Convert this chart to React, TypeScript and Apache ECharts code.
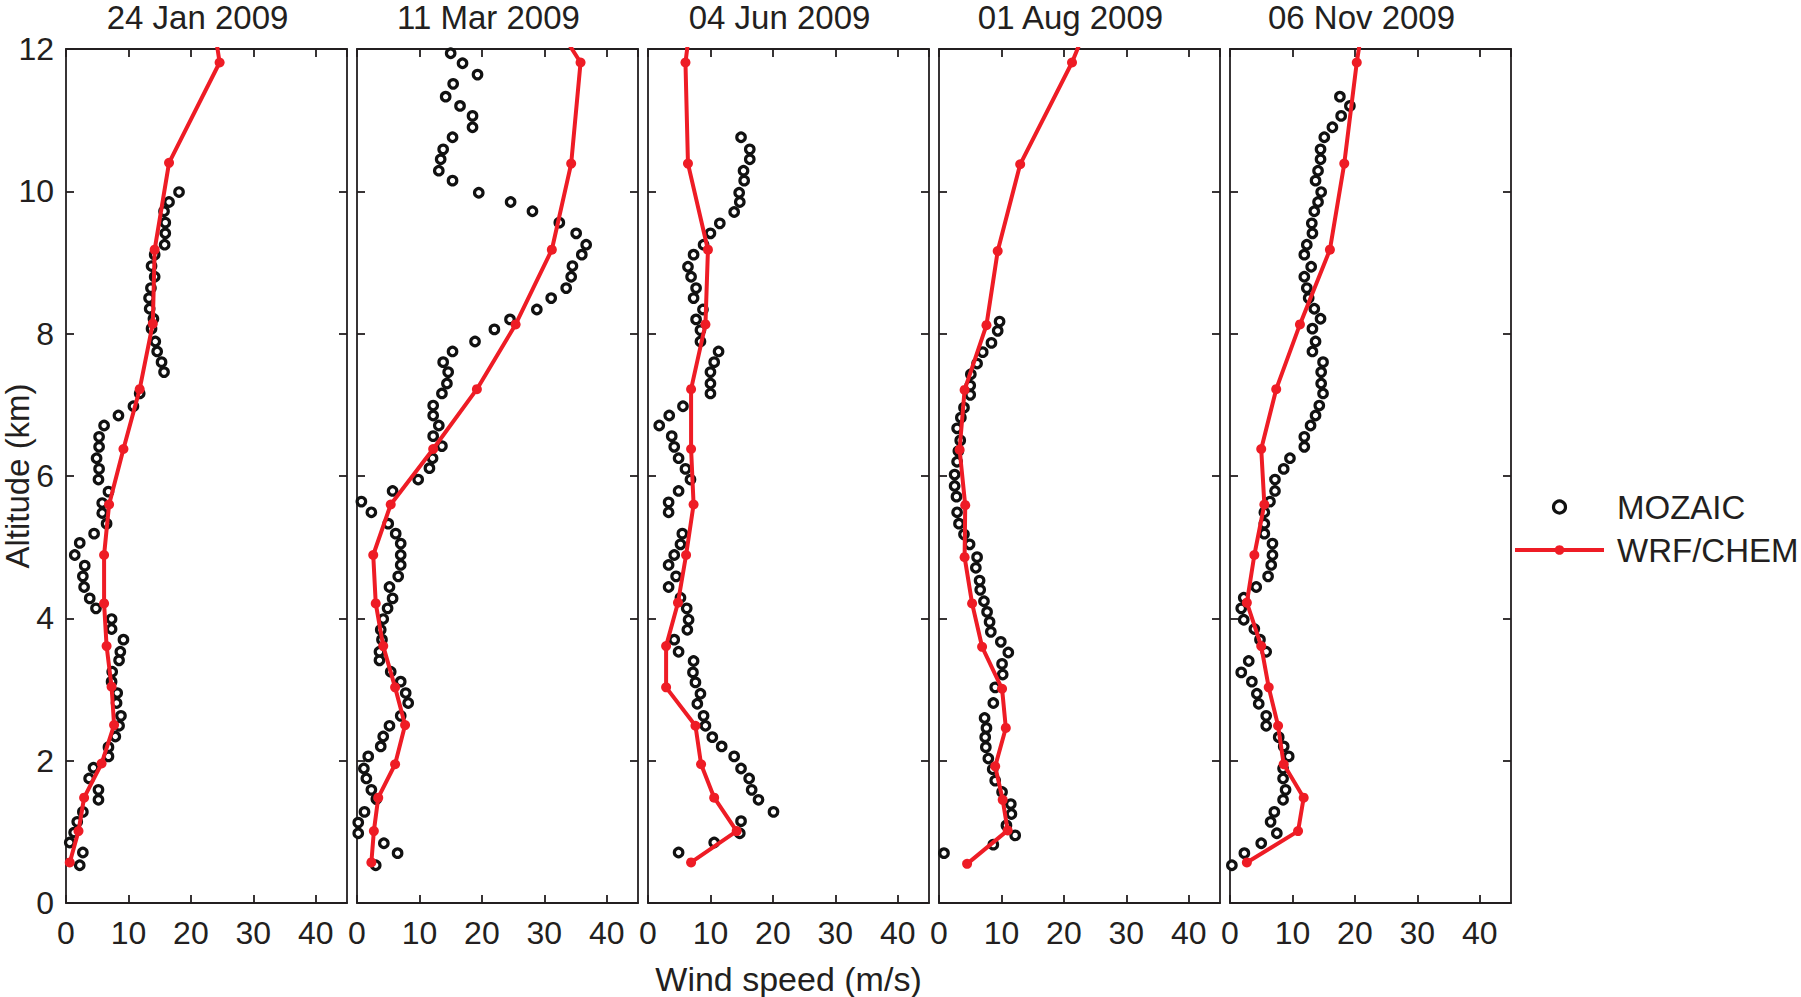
import React, { useEffect, useRef } from "react";
import * as echarts from "echarts";

// ---- Data: [wind speed (m/s), altitude (km)] ----
const panelTitles = ["24 Jan 2009", "11 Mar 2009", "04 Jun 2009", "01 Aug 2009", "06 Nov 2009"];

const mozaicJan24 = [
  [18.1, 9.99], [16.5, 9.85], [15.7, 9.72], [15.9, 9.56], [15.9, 9.41], [15.8, 9.25], [14.2, 9.11], [13.7, 8.95],
  [14.2, 8.8], [13.6, 8.64], [13.3, 8.5], [13.4, 8.35], [14.0, 8.21], [13.7, 8.07], [14.3, 7.89], [14.6, 7.75],
  [15.3, 7.6], [15.7, 7.46], [11.8, 7.16], [10.8, 6.98], [8.4, 6.85], [6.1, 6.71], [5.3, 6.55], [5.3, 6.41],
  [4.9, 6.25], [5.3, 6.1], [5.2, 5.95], [6.8, 5.78], [5.8, 5.62], [5.8, 5.48], [6.5, 5.33], [4.5, 5.19],
  [2.2, 5.06], [1.4, 4.89], [3.0, 4.74], [2.7, 4.59], [2.9, 4.44], [3.8, 4.28], [4.8, 4.14], [7.3, 3.99],
  [7.3, 3.85], [9.2, 3.7], [8.7, 3.53], [8.5, 3.41], [7.4, 3.25], [7.3, 3.11], [8.2, 2.95], [8.1, 2.81],
  [8.8, 2.63], [8.5, 2.49], [7.9, 2.34], [6.8, 2.19], [6.8, 2.06], [4.4, 1.9], [3.7, 1.75], [5.2, 1.59],
  [5.2, 1.45], [2.7, 1.28], [1.8, 1.14], [1.3, 0.99], [0.6, 0.85], [2.7, 0.71], [2.2, 0.53],
];
const wrfJan24 = [
  [22.0, 13.3], [24.6, 11.81], [16.5, 10.4], [14.2, 9.18], [13.9, 8.14], [11.8, 7.22], [9.2, 6.38], [6.9, 5.6],
  [6.1, 4.89], [6.1, 4.21], [6.5, 3.61], [7.3, 3.04], [7.7, 2.5], [5.7, 1.96], [2.9, 1.48], [2.0, 1.01], [0.6, 0.57],
];

const mozaicMar11 = [
  [15.0, 11.94], [16.9, 11.8], [19.3, 11.64], [15.4, 11.51], [14.2, 11.33], [16.5, 11.2], [18.5, 11.06], [18.5, 10.9],
  [15.3, 10.76], [13.8, 10.59], [13.4, 10.45], [13.1, 10.29], [15.3, 10.15], [19.5, 9.98], [24.6, 9.85], [28.1, 9.72],
  [32.4, 9.56], [35.1, 9.41], [36.7, 9.25], [36.0, 9.11], [34.5, 8.95], [34.3, 8.8], [33.5, 8.64], [31.1, 8.5],
  [28.8, 8.34], [24.5, 8.2], [22.0, 8.06], [18.9, 7.89], [15.3, 7.75], [13.8, 7.6], [14.6, 7.46], [14.4, 7.3],
  [13.6, 7.16], [12.2, 6.99], [12.2, 6.85], [13.1, 6.71], [12.2, 6.56], [13.6, 6.42], [12.1, 6.25], [11.6, 6.11],
  [9.8, 5.95], [5.7, 5.79], [0.7, 5.64], [2.3, 5.49], [5.0, 5.33], [6.2, 5.19], [7.0, 5.05], [7.0, 4.89],
  [7.0, 4.75], [6.6, 4.59], [5.2, 4.44], [5.7, 4.28], [4.9, 4.14], [4.2, 3.99], [3.8, 3.84], [4.0, 3.7],
  [3.6, 3.53], [3.6, 3.41], [5.4, 3.25], [7.0, 3.11], [7.8, 2.95], [8.2, 2.81], [7.0, 2.63], [5.2, 2.49],
  [4.2, 2.34], [3.8, 2.2], [1.8, 2.06], [1.1, 1.89], [1.5, 1.75], [2.3, 1.59], [3.1, 1.46], [1.2, 1.28],
  [0.2, 1.13], [0.2, 0.98], [4.3, 0.84], [6.5, 0.7], [3.0, 0.53],
];
const wrfMar11 = [
  [25.0, 13.3], [35.8, 11.81], [34.3, 10.39], [31.2, 9.18], [25.4, 8.13], [19.2, 7.22], [12.2, 6.38], [5.4, 5.6],
  [2.6, 4.89], [3.0, 4.21], [4.2, 3.61], [6.1, 3.03], [7.7, 2.5], [6.1, 1.95], [3.4, 1.48], [2.7, 1.01], [2.3, 0.57],
];

const mozaicJun04 = [
  [14.9, 10.76], [16.3, 10.59], [16.3, 10.45], [15.3, 10.29], [15.4, 10.15], [14.6, 9.98], [14.7, 9.85], [13.8, 9.71],
  [11.5, 9.55], [10.0, 9.41], [8.9, 9.25], [7.3, 9.11], [6.4, 8.94], [6.9, 8.8], [7.7, 8.64], [7.3, 8.5],
  [8.8, 8.34], [7.7, 8.2], [8.4, 8.05], [8.4, 7.89], [11.3, 7.75], [10.6, 7.6], [10.0, 7.46], [10.0, 7.3],
  [10.0, 7.16], [5.6, 6.98], [3.4, 6.85], [1.8, 6.71], [3.8, 6.56], [4.2, 6.41], [4.9, 6.25], [6.0, 6.1],
  [6.8, 5.95], [4.9, 5.79], [3.3, 5.63], [3.3, 5.49], [5.5, 5.19], [5.2, 5.04], [4.2, 4.89], [3.3, 4.75],
  [4.5, 4.59], [3.3, 4.44], [5.2, 4.29], [6.2, 4.14], [6.5, 3.98], [6.3, 3.84], [4.2, 3.7], [4.9, 3.53],
  [7.3, 3.4], [7.2, 3.24], [7.6, 3.1], [8.4, 2.94], [7.9, 2.8], [8.9, 2.63], [9.2, 2.49], [10.3, 2.33],
  [11.8, 2.2], [13.8, 2.06], [14.9, 1.89], [16.2, 1.75], [16.6, 1.59], [17.7, 1.45], [20.1, 1.28], [14.9, 1.15],
  [14.7, 0.98], [10.6, 0.85], [4.9, 0.71],
];
const wrfJun04 = [
  [8.1, 13.3], [6.0, 11.81], [6.4, 10.39], [9.6, 9.18], [9.2, 8.13], [6.9, 7.22], [6.9, 6.38], [7.3, 5.6],
  [6.1, 4.89], [4.8, 4.22], [2.9, 3.61], [2.9, 3.03], [7.6, 2.49], [8.5, 1.95], [10.6, 1.48], [14.2, 1.01], [6.9, 0.57],
];

const mozaicAug01 = [
  [9.7, 8.17], [9.4, 8.04], [8.4, 7.87], [7.0, 7.74], [6.1, 7.58], [5.1, 7.43], [5.0, 7.27], [5.0, 7.14],
  [4.0, 6.96], [3.5, 6.82], [2.9, 6.67], [3.4, 6.5], [3.1, 6.35], [2.9, 6.2], [2.5, 6.02], [2.5, 5.86],
  [2.8, 5.71], [2.9, 5.49], [3.2, 5.33], [4.0, 5.18], [4.9, 5.04], [6.1, 4.86], [5.9, 4.71], [6.5, 4.53],
  [6.6, 4.4], [7.2, 4.24], [7.7, 4.09], [8.1, 3.95], [8.3, 3.81], [9.9, 3.67], [11.1, 3.52], [10.1, 3.36],
  [10.2, 3.21], [9.0, 3.03], [8.7, 2.81], [7.3, 2.6], [7.6, 2.46], [7.4, 2.33], [7.5, 2.19], [7.9, 2.03],
  [8.6, 1.88], [9.0, 1.72], [10.1, 1.56], [11.5, 1.39], [11.6, 1.25], [10.8, 1.09], [12.2, 0.95], [8.7, 0.82],
  [0.8, 0.7],
];
const wrfAug01 = [
  [28.2, 13.3], [21.3, 11.81], [13.0, 10.38], [9.4, 9.16], [7.6, 8.12], [4.1, 7.21], [3.3, 6.37], [4.2, 5.59],
  [4.1, 4.86], [5.3, 4.21], [6.9, 3.6], [10.1, 3.01], [10.7, 2.46], [9.0, 1.92], [10.2, 1.45], [11.0, 1.02], [4.5, 0.55],
];

const mozaicNov06 = [
  [17.6, 11.33], [19.2, 11.2], [17.8, 11.06], [16.4, 10.9], [15.1, 10.76], [14.5, 10.59], [14.5, 10.45], [14.1, 10.29],
  [13.7, 10.15], [14.6, 9.99], [14.1, 9.85], [13.5, 9.72], [13.1, 9.55], [13.2, 9.41], [12.3, 9.25], [11.9, 9.11],
  [13.0, 8.94], [11.9, 8.8], [12.3, 8.64], [12.6, 8.5], [13.5, 8.35], [14.5, 8.21], [13.2, 8.07], [13.7, 7.89],
  [13.2, 7.75], [14.9, 7.6], [14.6, 7.46], [14.6, 7.3], [14.9, 7.16], [14.3, 6.99], [13.7, 6.85], [12.9, 6.71],
  [11.9, 6.55], [11.9, 6.41], [9.6, 6.25], [8.6, 6.1], [7.2, 5.95], [7.2, 5.79], [6.4, 5.64], [5.5, 5.49],
  [5.5, 5.33], [5.5, 5.19], [6.8, 5.05], [6.8, 4.89], [6.6, 4.75], [6.1, 4.59], [4.2, 4.44], [2.2, 4.29],
  [1.8, 4.14], [2.2, 3.98], [3.9, 3.85], [4.8, 3.7], [5.8, 3.53], [3.0, 3.4], [1.8, 3.24], [3.5, 3.11],
  [4.3, 2.94], [4.6, 2.8], [5.8, 2.63], [5.8, 2.49], [7.8, 2.33], [8.6, 2.2], [9.4, 2.06], [8.5, 1.89],
  [8.5, 1.75], [8.9, 1.59], [8.5, 1.45], [7.1, 1.28], [6.5, 1.14], [7.5, 0.98], [5.0, 0.84], [2.3, 0.7],
  [0.3, 0.53],
];
const wrfNov06 = [
  [22.9, 13.3], [20.3, 11.81], [18.3, 10.39], [16.0, 9.18], [11.2, 8.13], [7.4, 7.22], [5.0, 6.38], [5.5, 5.6],
  [3.9, 4.89], [2.7, 4.22], [5.0, 3.61], [6.2, 3.03], [7.7, 2.49], [8.6, 1.95], [11.8, 1.48], [10.9, 1.01], [2.7, 0.57],
];

const mozaicSets = [mozaicJan24, mozaicMar11, mozaicJun04, mozaicAug01, mozaicNov06];
const wrfSets = [wrfJan24, wrfMar11, wrfJun04, wrfAug01, wrfNov06];

const xTickInterval = 10;
const xMax = 45;
const yTickInterval = 2;
const yMax = 12;

const FONT = '"Liberation Sans", Arial, Helvetica, sans-serif';
const INK = "#231f20";
const RED = "#ee1c25";

export default function App() {
  const ref = useRef<HTMLDivElement>(null);

  useEffect(() => {
    if (!ref.current) return;
    const chart = echarts.init(ref.current, undefined, { renderer: "svg" });

    const gridLeft = (i: number) => 66 + i * 291;
    const gridTop = 49;
    const gridW = 281;
    const gridH = 854;

    const grids: any[] = [];
    const xAxes: any[] = [];
    const yAxes: any[] = [];
    const series: any[] = [];
    const titles: any[] = [];

    const axisLine = { show: true, onZero: false, lineStyle: { color: INK, width: 1.8 } };
    const axisTick = { show: true, inside: true, length: 8, lineStyle: { color: INK, width: 1.8 } };

    panelTitles.forEach((t, i) => {
      grids.push({
        left: gridLeft(i),
        top: gridTop,
        width: gridW,
        height: gridH,
        containLabel: false,
        outerBoundsMode: "none",
      });
      titles.push({
        text: t,
        left: gridLeft(i) + gridW / 2 - 9,
        top: 1,
        padding: 0,
        textAlign: "center",
        textStyle: { fontFamily: FONT, fontSize: 33, fontWeight: "normal", color: INK },
      });
      // bottom x axis
      xAxes.push({
        gridIndex: i,
        type: "value",
        position: "bottom",
        min: 0,
        max: xMax,
        interval: xTickInterval,
        axisLine,
        axisTick,
        splitLine: { show: false },
        axisLabel: { show: true, fontFamily: FONT, fontSize: 32, color: INK, margin: 14, showMaxLabel: false },
        ...(i === 2
          ? {
              name: "Wind speed (m/s)",
              nameLocation: "middle",
              nameGap: 59,
              nameMoveOverlap: false,
              nameTextStyle: { fontFamily: FONT, fontSize: 34, color: INK },
            }
          : {}),
      });
      // top x axis (frame)
      xAxes.push({
        gridIndex: i,
        type: "value",
        position: "top",
        min: 0,
        max: xMax,
        interval: xTickInterval,
        axisLine,
        axisTick,
        splitLine: { show: false },
        axisLabel: { show: false },
      });
      // left y axis
      yAxes.push({
        gridIndex: i,
        type: "value",
        position: "left",
        min: 0,
        max: yMax,
        interval: yTickInterval,
        axisLine,
        axisTick,
        splitLine: { show: false },
        axisLabel: { show: i === 0, fontFamily: FONT, fontSize: 32, color: INK, margin: 12 },
        ...(i === 0
          ? {
              name: "Altitude (km)",
              nameLocation: "middle",
              nameGap: 32,
              nameMoveOverlap: false,
              nameTextStyle: { fontFamily: FONT, fontSize: 33, color: INK },
            }
          : {}),
      });
      // right y axis (frame)
      yAxes.push({
        gridIndex: i,
        type: "value",
        position: "right",
        min: 0,
        max: yMax,
        interval: yTickInterval,
        axisLine,
        axisTick,
        splitLine: { show: false },
        axisLabel: { show: false },
      });

      series.push({
        name: "MOZAIC",
        type: "scatter",
        xAxisIndex: i * 2,
        yAxisIndex: i * 2,
        data: mozaicSets[i],
        symbol: "circle",
        symbolSize: 8.5,
        itemStyle: { color: "#ffffff", borderColor: "#111111", borderWidth: 3.2, opacity: 1 },
        z: 2,
      });
      series.push({
        name: "WRF/CHEM",
        type: "line",
        xAxisIndex: i * 2,
        yAxisIndex: i * 2,
        data: wrfSets[i],
        clip: true,
        symbol: "circle",
        symbolSize: 10,
        showSymbol: true,
        lineStyle: { color: RED, width: 4 },
        itemStyle: { color: RED, borderWidth: 0 },
        z: 3,
      });
    });

    chart.setOption({
      animation: false,
      backgroundColor: "#ffffff",
      title: titles,
      grid: grids,
      xAxis: xAxes,
      yAxis: yAxes,
      series,
      legend: {
        data: [
          { name: "MOZAIC", itemStyle: { color: "#ffffff", borderColor: "#111111", borderWidth: 3.2 } },
          { name: "WRF/CHEM", lineStyle: { color: RED, width: 4 }, itemStyle: { color: RED } },
        ],
        orient: "vertical",
        left: 1508,
        top: 484,
        itemWidth: 89,
        itemHeight: 12,
        itemGap: 7,
        textStyle: { fontFamily: FONT, fontSize: 33, color: INK, lineHeight: 36, padding: [0, 0, 0, 8] },
        selectedMode: false,
      },
    });

    return () => chart.dispose();
  }, []);

  return (
    <div
      ref={ref}
      style={{ position: "fixed", left: 0, top: 0, width: 1801, height: 997, background: "#fff" }}
    />
  );
}
